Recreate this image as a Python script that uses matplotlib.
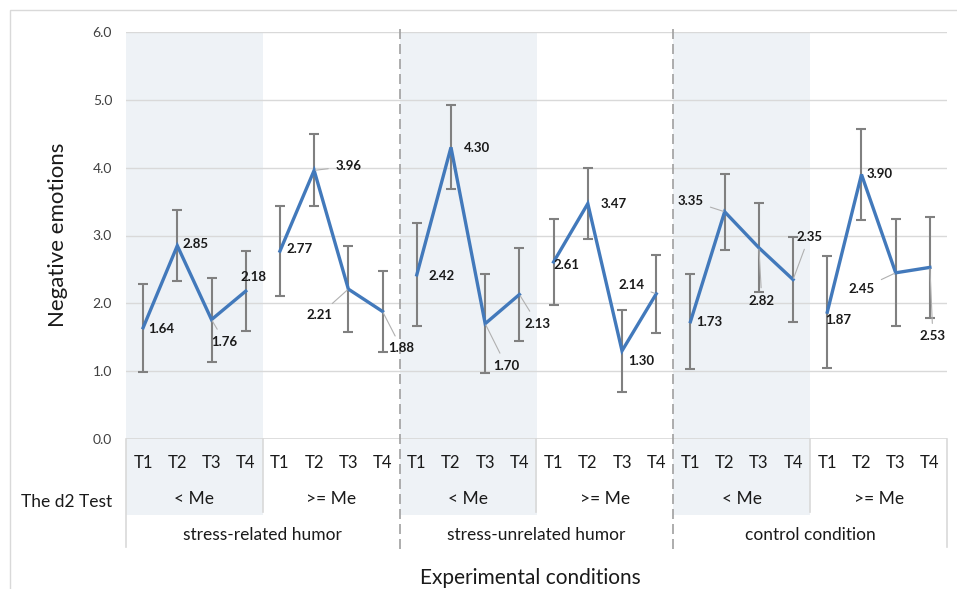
import numpy as np
import matplotlib
matplotlib.use('Agg')
import matplotlib.pyplot as plt
from matplotlib.patches import Rectangle

plt.rcParams['font.family'] = ['Lato', 'DejaVu Sans']

# data
groups = ['stress-related humor', 'stress-unrelated humor', 'control condition']
subgroups = ['< Me', '>= Me']
times = ['T1', 'T2', 'T3', 'T4']
means = [1.64, 2.85, 1.76, 2.18, 2.77, 3.96, 2.21, 1.88,
         2.42, 4.30, 1.70, 2.13, 2.61, 3.47, 1.30, 2.14,
         1.73, 3.35, 2.82, 2.35, 1.87, 3.90, 2.45, 2.53]
errors = [0.65, 0.52, 0.62, 0.59, 0.66, 0.53, 0.63, 0.60,
          0.76, 0.62, 0.73, 0.69, 0.63, 0.52, 0.60, 0.57,
          0.70, 0.56, 0.66, 0.63, 0.83, 0.67, 0.79, 0.75]

# label placement (pixel offsets, y down) and whether a leader line is drawn
offsets = [(18, 1), (18, -2), (13, 22), (8, -14), (20, -2), (34, -4), (-29, 26), (19, 37),
           (25, 1), (26, 1), (21, 42), (18, 29), (13, 3), (26, 0), (19, 10), (-25, -9),
           (19, 0), (-34, -11), (3, 53), (16, -43), (11, 8), (18, 0), (-34, 16), (3, 69)]
leaders = [0, 0, 1, 0, 0, 1, 1, 1,
           0, 0, 1, 1, 0, 0, 0, 1,
           0, 1, 1, 1, 0, 0, 1, 1]

blue = '#4279bb'
gray = '#808080'
shade = '#eef2f6'
line_c = '#d9d9d9'

fig = plt.figure(figsize=(9.57, 5.89), dpi=100)
ax = fig.add_axes([126 / 957, 150 / 589, 821 / 957, 407 / 589])
ax.set_xlim(-0.5, 23.5)
ax.set_ylim(0, 6)

# frame around the whole chart
fig.patches.append(Rectangle((10 / 957, -0.1), 1.2, (579 / 589) + 0.1, transform=fig.transFigure,
                             fill=False, edgecolor='#d9d9d9', lw=1))

# shaded "< Me" columns
for g in range(3):
    x0 = g * 8 - 0.5
    ax.add_patch(Rectangle((x0, -1.12), 4, 7.12, facecolor=shade, edgecolor='none',
                           clip_on=False, zorder=0))

ax.set_yticks(np.arange(0, 6.1, 1.0))
ax.set_yticklabels([f'{v:.1f}' for v in np.arange(0, 6.1, 1.0)], fontsize=10)
ax.tick_params(axis='y', length=0, pad=10, colors='#404040')
ax.tick_params(axis='x', length=0, labelbottom=False)
ax.grid(axis='y', color=line_c, lw=1)
ax.set_axisbelow(True)
for s in ax.spines.values():
    s.set_visible(False)
ax.axhline(0, color=line_c, lw=1.2, zorder=1)

x = np.arange(len(means))
ax.errorbar(x, means, yerr=errors, fmt='none', ecolor=gray, elinewidth=1.5,
            capsize=3.5, capthick=1.5, zorder=2)
for k in range(6):
    sl = slice(k * 4, k * 4 + 4)
    ax.plot(x[sl], means[sl], color=blue, lw=2.4, zorder=3, solid_joinstyle='miter')

for i, (m, (dx, dy), ld) in enumerate(zip(means, offsets, leaders)):
    ap = dict(arrowstyle='-', color='#b0b0b0', lw=0.8, shrinkA=3, shrinkB=1) if ld else None
    ax.annotate(f'{m:.2f}', (x[i], m), xytext=(dx, -dy), textcoords='offset pixels',
                ha='center', va='center', fontsize=9.5, fontweight='bold', color='#1a1a1a',
                arrowprops=ap, zorder=4)

# category table below the axis
for i, t in enumerate(times * 6):
    ax.text(i, -0.36, t, ha='center', va='center', fontsize=12, color='#1a1a1a', clip_on=False)
for k in range(6):
    ax.text(k * 4 + 1.5, -0.88, subgroups[k % 2], ha='center', va='center', fontsize=12.5,
            color='#1a1a1a', clip_on=False)
for g in range(3):
    ax.text(g * 8 + 3.5, -1.41, groups[g], ha='center', va='center', fontsize=12.5,
            color='#1a1a1a', clip_on=False)

for k in range(7):
    xb = k * 4 - 0.5
    if k in (2, 4):
        ax.plot([xb, xb], [-1.62, 6.06], color='#a0a0a0', lw=1.2, ls=(0, (6, 3)),
                clip_on=False, zorder=1)
    elif k in (0, 6):
        ax.plot([xb, xb], [-1.59, 0], color=line_c, lw=1.2, clip_on=False, zorder=1)
    else:
        ax.plot([xb, xb], [-1.08, 0], color=line_c, lw=1.2, clip_on=False, zorder=1)

fig.text(21 / 957, 1 - 502 / 589, 'The d2 Test', ha='left', va='center', fontsize=12.5,
         color='#1a1a1a')
fig.text(58 / 957, 1 - 235 / 589, 'Negative emotions', rotation=90, ha='center', va='center',
         fontsize=16, color='#1a1a1a')
fig.text(530 / 957, 1 - 578 / 589, 'Experimental conditions', ha='center', va='center',
         fontsize=15, color='#1a1a1a')

fig.savefig('out.png', dpi=100)
